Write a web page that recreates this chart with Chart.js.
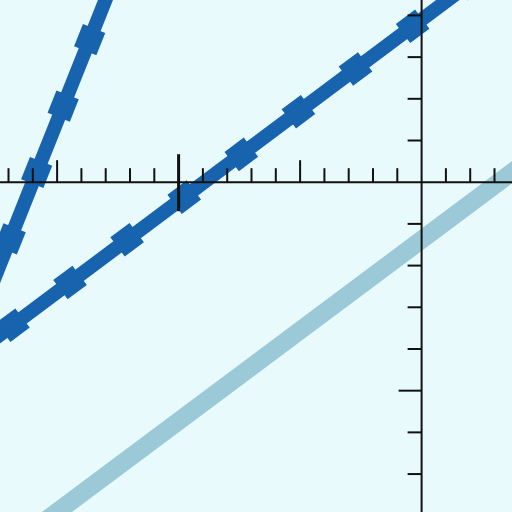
<!DOCTYPE html>
<html lang="en">
<head>
    <meta charset="UTF-8">
    <title>Lines</title>
    <style>
        body { margin: 0; background: #e8fafc; }
        #wrap { width: 512px; height: 512px; }
    </style>
</head>
<body>
<div id="wrap">
    <canvas id="Chart1"></canvas>
</div>

<script src="https://cdn.jsdelivr.net/npm/chart.js"></script>
<script>

    // data, in axis units
    const steepX = [-19.0, -12.4];
    const steepY = [-4.38, 5.26];
    const lowerX = [-19.0, 4.2];
    const lowerY = [-4.38, 5.73];
    const lightX = [-16.5, 4.2];
    const lightY = [-8.56, 0.45];

    // axis ticks
    const xTicks = [-17, -16, -15, -14, -13, -12, -11, -10, -9, -8, -7, -6, -5, -4, -3, -2, -1, 1, 2, 3];
    const xMedium = [-15, -5];
    const xMajor = [-10];
    const yTicks = [-7, -6, -5, -4, -3, -2, -1, 1, 2, 3, 4];
    const yMedium = [-5];

    function pts(xs, ys) {
        return xs.map((x, i) => ({x: x, y: ys[i]}));
    }

    const blue = '#1763ad';

    const axesPlugin = {
        id: 'axes',
        beforeDraw(chart) {
            const c = chart.ctx;
            c.save();
            c.fillStyle = '#e8fafc';
            c.fillRect(0, 0, chart.width, chart.height);
            c.restore();
        },
        afterDatasetsDraw(chart) {
            const c = chart.ctx;
            const xs = chart.scales.x, ys = chart.scales.y;
            const ox = xs.getPixelForValue(0), oy = ys.getPixelForValue(0);
            c.save();
            c.strokeStyle = '#111';
            c.lineWidth = 2;
            c.beginPath();
            c.moveTo(0, oy); c.lineTo(chart.width, oy);
            c.moveTo(ox, 0); c.lineTo(ox, chart.height);
            c.stroke();

            xTicks.forEach(v => {
                const px = xs.getPixelForValue(v);
                c.beginPath();
                if (xMajor.includes(v)) {
                    c.lineWidth = 3;
                    c.moveTo(px, oy - 28); c.lineTo(px, oy + 29);
                } else {
                    c.lineWidth = 2;
                    const len = xMedium.includes(v) ? 22 : 14;
                    c.moveTo(px, oy - len); c.lineTo(px, oy);
                }
                c.stroke();
            });
            c.lineWidth = 2;
            yTicks.forEach(v => {
                const py = ys.getPixelForValue(v);
                const len = yMedium.includes(v) ? 23 : 14;
                c.beginPath();
                c.moveTo(ox - len, py); c.lineTo(ox, py);
                c.stroke();
            });
            c.restore();
        }
    };

    const data = {
        datasets: [
            {data: pts(lightX, lightY), borderColor: '#9bc9d7', borderWidth: 18},
            {data: pts(steepX, steepY), borderColor: blue, borderWidth: 14},
            {data: pts(steepX, steepY), borderColor: blue, borderWidth: 24, borderDash: [24, 47.5], borderDashOffset: 19.4},
            {data: pts(lowerX, lowerY), borderColor: blue, borderWidth: 14},
            {data: pts(lowerX, lowerY), borderColor: blue, borderWidth: 24, borderDash: [24, 47.3], borderDashOffset: 17.1}
        ]
    };

    const config = {
        type: 'scatter',
        data: data,
        options: {
            responsive: true,
            maintainAspectRatio: false,
            animation: false,
            layout: {padding: 0},
            showLine: true,
            elements: {point: {radius: 0}, line: {tension: 0}},
            plugins: {legend: {display: false}, tooltip: {enabled: false}},
            scales: {
                x: {type: 'linear', display: false, min: -17.35, max: 3.72},
                y: {type: 'linear', display: false, min: -7.91, max: 4.37}
            }
        },
        plugins: [axesPlugin]
    };

    const chart = new Chart(document.getElementById('Chart1').getContext('2d'), config);

</script>
</body>
</html>
